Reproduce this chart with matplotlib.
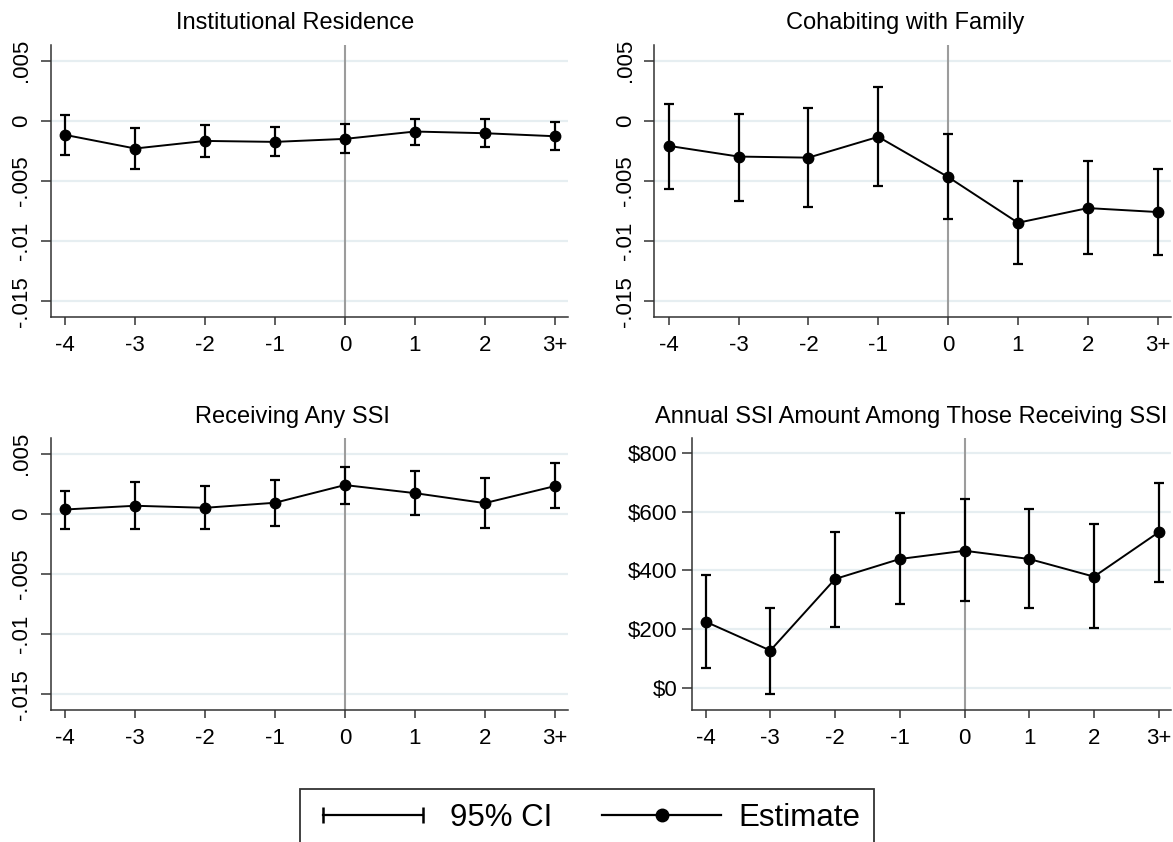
import matplotlib
matplotlib.use('Agg')
import matplotlib.pyplot as plt
from matplotlib.lines import Line2D
from matplotlib.legend_handler import HandlerLine2D

plt.rcParams['font.family'] = ['Liberation Sans', 'DejaVu Sans']

# === DATA === #
periods = [-4, -3, -2, -1, 0, 1, 2, 3]
period_labels = ['-4', '-3', '-2', '-1', '0', '1', '2', '3+']

inst_est = [-0.00117, -0.0023, -0.00167, -0.00175, -0.0015, -0.00089, -0.00103, -0.00128]
inst_hi = [0.0005, -0.00061, -0.00036, -0.00053, -0.00028, 0.00019, 0.00019, -0.00011]
inst_lo = [-0.00286, -0.004, -0.00303, -0.00294, -0.00264, -0.002, -0.00214, -0.00239]

fam_est = [-0.00208, -0.00297, -0.00306, -0.00133, -0.00467, -0.00847, -0.00725, -0.00758]
fam_hi = [0.00139, 0.00058, 0.00108, 0.0028, -0.00108, -0.00497, -0.00336, -0.00403]
fam_lo = [-0.00567, -0.00664, -0.0072, -0.00539, -0.00817, -0.01192, -0.01106, -0.01117]

ssi_est = [0.00036, 0.00067, 0.0005, 0.00092, 0.00239, 0.00172, 0.00089, 0.0023]
ssi_hi = [0.00192, 0.00267, 0.0023, 0.00278, 0.00392, 0.00353, 0.00297, 0.0042]
ssi_lo = [-0.00125, -0.00125, -0.00125, -0.00103, 0.00078, -0.00006, -0.00117, 0.00047]

amt_est = [226, 128, 371, 439, 467, 439, 379, 530]
amt_hi = [385, 271, 530, 595, 643, 609, 557, 698]
amt_lo = [70, -19, 208, 285, 295, 272, 205, 361]

share_ticks = [0.005, 0, -0.005, -0.01, -0.015]
share_labels = ['.005', '0', '-.005', '-.01', '-.015']
dollar_ticks = [800, 600, 400, 200, 0]
dollar_labels = ['$800', '$600', '$400', '$200', '$0']

titles = ['Institutional Residence', 'Cohabiting with Family',
          'Receiving Any SSI', 'Annual SSI Amount Among Those Receiving SSI']

W, H = 1173, 842
GRID = '#e6eef1'
FS = 16


def px_axes(fig, left, right, top, bottom):
    return fig.add_axes([left / W, 1 - bottom / H, (right - left) / W, (bottom - top) / H])


def panel(ax, est, lo, hi, yticks, ylabels, ylim, rotate):
    ax.set_xlim(-4.21, 3.19)
    ax.set_ylim(*ylim)
    ax.set_yticks(yticks)
    ax.set_yticklabels(ylabels)
    ax.set_xticks(periods)
    ax.set_xticklabels(period_labels)
    for y in yticks:
        ax.axhline(y, color=GRID, lw=1.6, zorder=0)
    ax.axvline(0, color='#9c9c9c', lw=1.5, zorder=1)

    err = [[e - l for e, l in zip(est, lo)], [h - e for e, h in zip(est, hi)]]
    ax.errorbar(periods, est, yerr=err, fmt='none', ecolor='black',
                elinewidth=1.6, capsize=3.6, capthick=1.6, zorder=3)
    ax.plot(periods, est, color='black', lw=1.4, marker='o', markersize=7.5, zorder=4)

    for side in ['top', 'right']:
        ax.spines[side].set_visible(False)
    for side in ['left', 'bottom']:
        ax.spines[side].set_color('#333333')
        ax.spines[side].set_linewidth(1.1)
    ax.tick_params(axis='x', length=6, width=1.1, color='#333333', labelsize=FS, pad=7)
    ax.tick_params(axis='y', length=7, width=1.1, color='#333333', labelsize=FS,
                   pad=6 if rotate else 3.5)
    if rotate:
        for lab in ax.get_yticklabels():
            lab.set_rotation(90)
            lab.set_va('center')


fig = plt.figure(figsize=(W / 100, H / 100), dpi=100)

share_lim = (-0.0163, 0.0063)

ax1 = px_axes(fig, 50.5, 568, 45, 317)
panel(ax1, inst_est, inst_lo, inst_hi, share_ticks, share_labels, share_lim, True)

ax2 = px_axes(fig, 654, 1171, 45, 317)
panel(ax2, fam_est, fam_lo, fam_hi, share_ticks, share_labels, share_lim, True)

ax3 = px_axes(fig, 50.5, 568, 438, 710)
panel(ax3, ssi_est, ssi_lo, ssi_hi, share_ticks, share_labels, share_lim, True)

ax4 = px_axes(fig, 692, 1171, 438, 710)
panel(ax4, amt_est, amt_lo, amt_hi, dollar_ticks, dollar_labels, (-74, 850), False)

# titles
TFS = 17
fig.text(295 / W, 1 - 23 / H, titles[0], ha='center', va='center', fontsize=TFS)
fig.text(905 / W, 1 - 23 / H, titles[1], ha='center', va='center', fontsize=TFS)
fig.text(292 / W, 1 - 417 / H, titles[2], ha='center', va='center', fontsize=TFS)
fig.text(911 / W, 1 - 417 / H, titles[3], ha='center', va='center', fontsize=TFS)

# legend
ci_handle = Line2D([], [], color='black', lw=1.6, marker='|', markersize=12, markeredgewidth=1.8)
est_handle = Line2D([], [], color='black', lw=1.6, marker='o', markersize=9)
leg = fig.legend([ci_handle, est_handle], ['95% CI', 'Estimate'], ncol=2,
                 loc='center', bbox_to_anchor=(587 / W, 1 - 818 / H),
                 fontsize=22.5, numpoints=2, handlelength=3.8, handletextpad=0.55,
                 columnspacing=1.6, borderpad=0.45, borderaxespad=0, fancybox=False,
                 handler_map={est_handle: HandlerLine2D(numpoints=1)})
leg.get_frame().set_edgecolor('black')
leg.get_frame().set_linewidth(1.3)

fig.savefig('out.png', dpi=100)
